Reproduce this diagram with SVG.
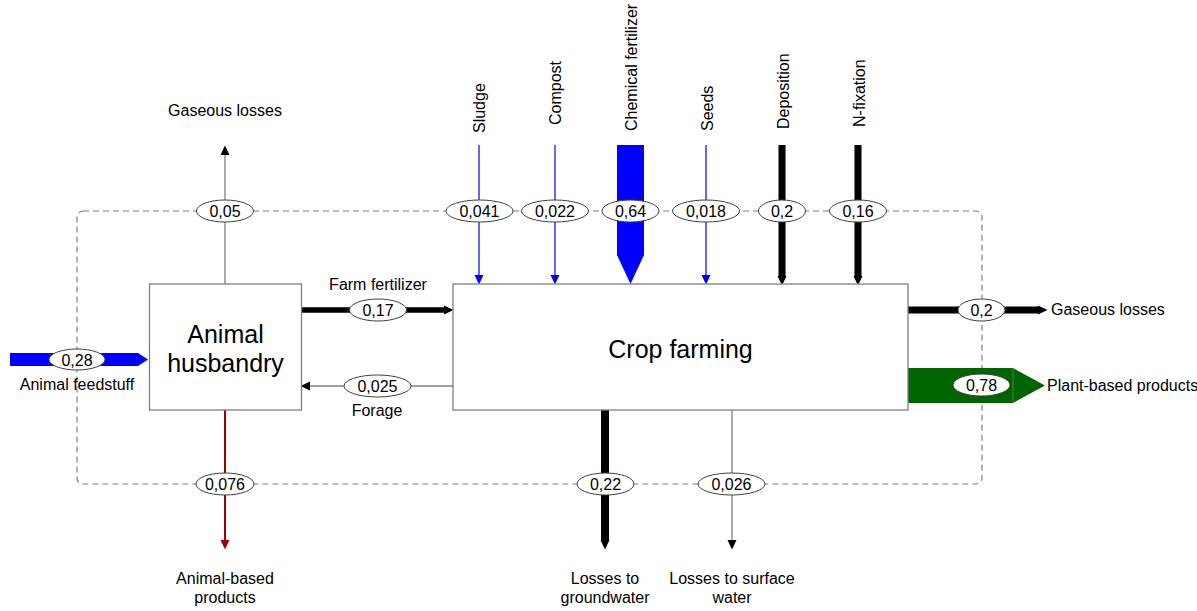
<svg xmlns="http://www.w3.org/2000/svg" width="1197" height="611" viewBox="0 0 1197 611">
  <style>
    .bg { fill: #ffffff; }
    .box { fill: #ffffff; stroke: #7f7f7f; stroke-width: 1.3; }
    .title { font-family: "Liberation Sans", Arial, sans-serif; font-size: 25px; fill: #000; text-anchor: middle; }
    .lbl { font-family: "Liberation Sans", Arial, sans-serif; font-size: 16px; fill: #000; }
    .mid { text-anchor: middle; }
    .val { font-family: "Liberation Sans", Arial, sans-serif; font-size: 16px; fill: #000; text-anchor: middle; dominant-baseline: central; }
    .oval { fill: #ffffff; stroke: #404040; stroke-width: 1; }
    .loop { fill: none; stroke: #7f7f7f; stroke-width: 1.2; stroke-dasharray: 6 4; }
    .thin-blue { stroke: #0000ff; stroke-width: 1.2; fill: none; }
    .thin-gray { stroke: #7f7f7f; stroke-width: 1.3; fill: none; }
    .thin-red { stroke: #a00000; stroke-width: 2; fill: none; }
    .thick { stroke: #000; fill: none; }
  </style>
  <defs>
    <marker id="headBlack" markerUnits="userSpaceOnUse" markerWidth="10" markerHeight="10" viewBox="0 0 10 10" refX="0" refY="5" orient="auto">
      <path d="M0,0.5 L9.5,5 L0,9.5 z" fill="#000"/>
    </marker>
    <marker id="headBlue" markerUnits="userSpaceOnUse" markerWidth="10" markerHeight="10" viewBox="0 0 10 10" refX="0" refY="5" orient="auto">
      <path d="M0,0.5 L9.5,5 L0,9.5 z" fill="#0000ff"/>
    </marker>
    <marker id="headRed" markerUnits="userSpaceOnUse" markerWidth="10" markerHeight="10" viewBox="0 0 10 10" refX="0" refY="5" orient="auto">
      <path d="M0,0.5 L9.5,5 L0,9.5 z" fill="#a00000"/>
    </marker>
  </defs>

  <rect class="bg" x="0" y="0" width="1197" height="611"/>

  <!-- system boundary -->
  <rect id="boundary" class="loop" x="77" y="211" width="905" height="273" rx="6" ry="6"/>

  <g id="connectors">
    <!-- inputs to crop farming from above -->
    <line class="thin-blue" x1="479" y1="145" x2="479" y2="275" marker-end="url(#headBlue)"/>
    <line class="thin-blue" x1="555" y1="145" x2="555" y2="275" marker-end="url(#headBlue)"/>
    <polygon points="617,145 644,145 644,255 630.5,284 617,255" fill="#0000ff"/>
    <line class="thin-blue" x1="706" y1="145" x2="706" y2="275" marker-end="url(#headBlue)"/>
    <line class="thick" stroke-width="7" x1="782" y1="145" x2="782" y2="276" marker-end="url(#headBlack)"/>
    <line class="thick" stroke-width="7" x1="858" y1="145" x2="858" y2="276" marker-end="url(#headBlack)"/>

    <!-- animal husbandry flows -->
    <polygon points="10,353 138,353 148,359.5 138,366 10,366" fill="#0000ff"/>
    <line class="thin-gray" x1="225" y1="284" x2="225" y2="155" marker-end="url(#headBlack)"/>
    <line class="thin-red" x1="225" y1="410" x2="225" y2="540" marker-end="url(#headRed)"/>
    <line class="thick" stroke-width="5.5" x1="301" y1="310" x2="444" y2="310" marker-end="url(#headBlack)"/>
    <line class="thin-gray" x1="453" y1="386" x2="310" y2="386" marker-end="url(#headBlack)"/>

    <!-- crop farming outputs -->
    <line class="thick" stroke-width="7" x1="908" y1="310" x2="1038" y2="310" marker-end="url(#headBlack)"/>
    <polygon points="908,368 1013,368 1045,385.5 1013,403 908,403" fill="#006400"/>
    <line x1="1013" y1="368" x2="1013" y2="403" stroke="#3c8c3c" stroke-width="1"/>
    <line class="thick" stroke-width="8" x1="605" y1="410" x2="605" y2="540" marker-end="url(#headBlack)"/>
    <line class="thin-gray" x1="732" y1="410" x2="732" y2="540" marker-end="url(#headBlack)"/>
  </g>

  <g id="values">
    <ellipse class="oval" cx="77" cy="359.5" rx="28" ry="10.5"/><text class="val" x="77" y="360">0,28</text>
    <ellipse class="oval" cx="225" cy="211" rx="28.5" ry="11"/><text class="val" x="225" y="211.5">0,05</text>
    <ellipse class="oval" cx="479.5" cy="211" rx="33.5" ry="11"/><text class="val" x="479.5" y="211.5">0,041</text>
    <ellipse class="oval" cx="555" cy="211" rx="33.5" ry="11"/><text class="val" x="555" y="211.5">0,022</text>
    <ellipse class="oval" cx="630.5" cy="211" rx="28.5" ry="11"/><text class="val" x="630.5" y="211.5">0,64</text>
    <ellipse class="oval" cx="706" cy="211" rx="33.5" ry="11"/><text class="val" x="706" y="211.5">0,018</text>
    <ellipse class="oval" cx="782" cy="211" rx="23.5" ry="11"/><text class="val" x="782" y="211.5">0,2</text>
    <ellipse class="oval" cx="858" cy="211" rx="28.5" ry="11"/><text class="val" x="858" y="211.5">0,16</text>
    <ellipse class="oval" cx="378" cy="310" rx="28.5" ry="11"/><text class="val" x="378" y="310.5">0,17</text>
    <ellipse class="oval" cx="377.5" cy="386" rx="33.5" ry="11"/><text class="val" x="377.5" y="386.5">0,025</text>
    <ellipse class="oval" cx="981.5" cy="310" rx="23.5" ry="11"/><text class="val" x="981.5" y="310.5">0,2</text>
    <ellipse class="oval" cx="981.5" cy="385" rx="28.5" ry="11"/><text class="val" x="981.5" y="385.5">0,78</text>
    <ellipse class="oval" cx="225" cy="484" rx="29" ry="11"/><text class="val" x="225" y="484.5">0,076</text>
    <ellipse class="oval" cx="605.5" cy="484" rx="28.5" ry="11"/><text class="val" x="605.5" y="484.5">0,22</text>
    <ellipse class="oval" cx="731.5" cy="484" rx="33.5" ry="11"/><text class="val" x="731.5" y="484.5">0,026</text>
  </g>

  <g id="animal-husbandry">
    <rect class="box" x="149.5" y="284" width="152" height="126"/>
    <text class="title" x="225.5" y="343">Animal</text>
    <text class="title" x="225.5" y="372">husbandry</text>
  </g>

  <g id="crop-farming">
    <rect class="box" x="453" y="284" width="455" height="126"/>
    <text class="title" x="680.5" y="358">Crop farming</text>
  </g>

  <g id="labels">
    <text class="lbl mid" x="225" y="116">Gaseous losses</text>
    <text class="lbl mid" x="77" y="390">Animal feedstuff</text>
    <text class="lbl mid" x="378" y="290">Farm fertilizer</text>
    <text class="lbl mid" x="377" y="416">Forage</text>
    <text class="lbl mid" x="225" y="584">Animal-based</text>
    <text class="lbl mid" x="225" y="603">products</text>
    <text class="lbl mid" x="605" y="584">Losses to</text>
    <text class="lbl mid" x="605" y="603">groundwater</text>
    <text class="lbl mid" x="732" y="584">Losses to surface</text>
    <text class="lbl mid" x="732" y="603">water</text>
    <text class="lbl" x="1051" y="315">Gaseous losses</text>
    <text class="lbl" x="1047" y="391">Plant-based products</text>
    <text class="lbl" transform="translate(485 133) rotate(-90)">Sludge</text>
    <text class="lbl" transform="translate(561 125) rotate(-90)">Compost</text>
    <text class="lbl" transform="translate(636.5 131) rotate(-90)">Chemical fertilizer</text>
    <text class="lbl" transform="translate(712.5 131) rotate(-90)">Seeds</text>
    <text class="lbl" transform="translate(788.5 129) rotate(-90)">Deposition</text>
    <text class="lbl" transform="translate(864.5 127) rotate(-90)">N-fixation</text>
  </g>
</svg>
